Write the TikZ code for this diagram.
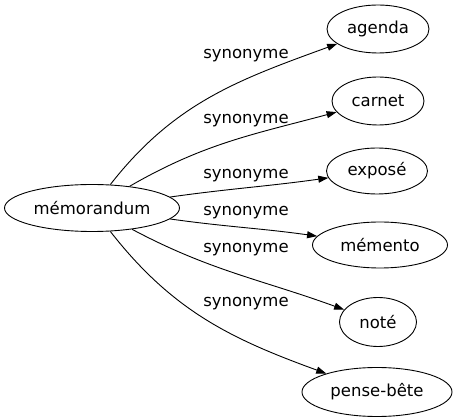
\documentclass[tikz,border=0pt]{standalone}
\usepackage{fontspec}
\setmainfont{DejaVu Sans}
\usepackage{tikz}
\usetikzlibrary{shapes.geometric, arrows.meta}

\begin{document}
\begin{tikzpicture}[
    x=1pt, y=-1pt,
    >={Triangle[length=10pt, width=7pt]},
    every node/.style={font=\fontsize{16.5}{19}\selectfont},
    word/.style={
        ellipse,
        draw=black, line width=0.9pt,
        inner sep=0pt,
        text centered
    },
    link/.style={->, line width=0.9pt},
    rel/.style={inner sep=0pt}
]
\useasboundingbox (0,0) rectangle (458,419);

\node[word, minimum width=175, minimum height=47] (memo) at (92,208) {mémorandum};

\node[word, minimum width=102, minimum height=48] (agenda) at (378,29) {agenda};
\node[word, minimum width=92, minimum height=48] (carnet) at (378,101) {carnet};
\node[word, minimum width=101, minimum height=46] (expose) at (377,171) {exposé};
\node[word, minimum width=135, minimum height=46] (memento) at (380,245) {mémento};
\node[word, minimum width=77, minimum height=49] (note) at (378,322) {noté};
\node[word, minimum width=150, minimum height=49] (pense) at (377,392) {pense-bête};

\draw[link] (memo) to[out=52, in=200] (agenda);
\draw[link] (memo) to[out=30, in=195] (carnet);
\draw[link] (memo) to[out=8, in=188] (expose);
\draw[link] (memo) to[out=-8, in=172] (memento);
\draw[link] (memo) to[out=-28, in=160] (note);
\draw[link] (memo) to[out=-52, in=160] (pense);

\node[rel] (syn1) at (246,56) {synonyme};
\node[rel] (syn2) at (246,121) {synonyme};
\node[rel] (syn3) at (246,176) {synonyme};
\node[rel] (syn4) at (246,213) {synonyme};
\node[rel] (syn5) at (246,250) {synonyme};
\node[rel] (syn6) at (246,304) {synonyme};

\end{tikzpicture}
\end{document}
